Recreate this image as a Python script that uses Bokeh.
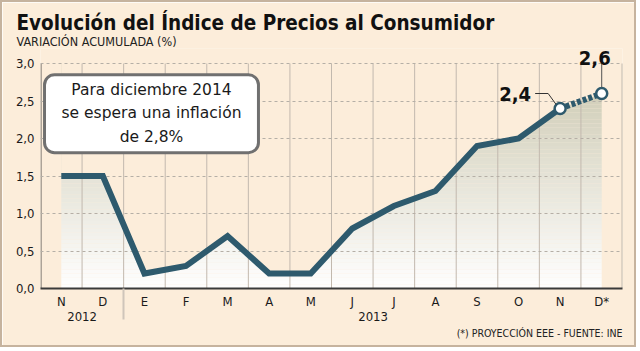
import numpy as np
from bokeh.plotting import figure
from bokeh.models import (Range1d, FixedTicker, LinearAxis, CustomJSTickFormatter, Label, Title)
from bokeh.embed import file_html
from bokeh.resources import INLINE

# ---- data ----
months = ["N", "D", "E", "F", "M", "A", "M", "J", "J", "A", "S", "O", "N", "D*"]
values = [1.5, 1.5, 0.2, 0.3, 0.7, 0.2, 0.2, 0.8, 1.1, 1.3, 1.9, 2.0, 2.4, 2.6]
years = ["2012", "2013"]
year_centers = [0.5, 7.5]
year_break = [1.5]
y_ticks = [0.0, 0.5, 1.0, 1.5, 2.0, 2.5, 3.0]
n_actual = 13  # the last value is a projection

title = "Evolución del Índice de Precios al Consumidor"
subtitle = "VARIACIÓN ACUMULADA (%)"
note = "Para diciembre 2014\nse espera una inflación\nde 2,8%"
source_txt = "(*) PROYECCIÓN EEE - FUENTE: INE"

# ---- styles ----
BG = "#FCEDDA"
LINE = "#2E5A6D"
GRID = "#C2B9AE"
COND = "DejaVu Sans Condensed"
Y_TOP = 3.0
Y_VIEW = 3.2

x = list(range(len(months)))

p = figure(width=636, height=347, x_range=Range1d(-0.5, len(months) - 0.5),
           y_range=Range1d(0, Y_VIEW), output_backend="svg", toolbar_location=None,
           min_border_left=38, min_border_right=16, min_border_top=46,
           min_border_bottom=61, background_fill_color=BG, border_fill_color=BG,
           outline_line_color=None)
p.styles = {"border": "2px solid #C6B39E"}

# ---- titles ----
p.title.text = title
p.title.align = "left"
p.title.offset = -24
p.title.text_font = COND
p.title.text_font_style = "bold"
p.title.text_font_size = "20.5px"
p.title.text_color = "#111111"
p.title.standoff = -4
p.title.padding = dict(left=0, right=0, top=3, bottom=0)
p.add_layout(Title(text=subtitle, align="left", offset=-24, text_font=COND,
                   text_font_style="normal", text_font_size="12.5px",
                   text_color="#222222", standoff=-1), "above")

# ---- gradient area under the curve ----
edges = np.linspace(0, Y_TOP, 61)
top_rgb = np.array([210, 207, 186])
cols = []
for lo, hi in zip(edges[:-1], edges[1:]):
    t = min((lo + hi) / 2 / 2.6, 1.0)
    c = (255 + (top_rgb - 255) * t).astype(int)
    cols.append("#%02x%02x%02x" % tuple(c))
p.quad(left=x[0], right=x[-1], bottom=edges[:-1], top=edges[1:], fill_color=cols,
       line_color=None, level="image")
p.patch(x + [x[-1], x[0]], values + [Y_VIEW, Y_VIEW], fill_color=BG, line_color=None,
        level="image")

# ---- grids ----
p.xgrid.visible = False
grid_x = [i + 0.5 for i in x]
p.segment(x0=grid_x, y0=0, x1=grid_x, y1=Y_TOP, line_color=GRID,
          line_width=[1] * (len(grid_x) - 1) + [2], level="underlay")
p.segment(x0=[-0.5], y0=0, x1=[-0.5], y1=Y_TOP, line_color="#ADA398", line_width=3,
          level="underlay")
p.ygrid.ticker = FixedTicker(ticks=y_ticks)
p.ygrid.grid_line_color = "#B5AFA6"
p.ygrid.grid_line_dash = "3 3"

# ---- axes ----
xa = p.xaxis[0]
xa.ticker = FixedTicker(ticks=x, minor_ticks=year_break)
xa.formatter = CustomJSTickFormatter(args=dict(labels=months),
                                     code="return labels[Math.round(tick)]")
xa.axis_line_color = "#3A3A3A"
xa.axis_line_width = 2
xa.major_tick_line_color = None
xa.major_tick_out = 0
xa.major_tick_in = 0
xa.minor_tick_out = 31
xa.minor_tick_in = 0
xa.minor_tick_line_color = "#CFC5BA"
xa.minor_tick_line_width = 2
xa.major_label_standoff = -26
xa.major_label_text_font = COND
xa.major_label_text_font_size = "13px"
xa.major_label_text_color = "#1a1a1a"

ya = LinearAxis(ticker=FixedTicker(ticks=year_centers),
                formatter=CustomJSTickFormatter(args=dict(labels=years, pos=year_centers),
                                                code="return labels[pos.indexOf(tick)]"))
ya.axis_line_color = None
ya.major_tick_line_color = None
ya.major_tick_out = 0
ya.major_tick_in = 0
ya.minor_tick_line_color = None
ya.major_label_standoff = 0
ya.major_label_text_font = COND
ya.major_label_text_font_size = "13px"
ya.major_label_text_color = "#1a1a1a"
p.add_layout(ya, "below")

p.add_layout(Title(text=source_txt, align="right", text_font=COND,
                   text_font_style="normal", text_font_size="10.5px",
                   text_color="#222222", standoff=2), "below")

yax = p.yaxis[0]
yax.ticker = FixedTicker(ticks=y_ticks)
yax.formatter = CustomJSTickFormatter(code="return tick.toFixed(1).replace('.', ',')")
yax.axis_line_color = None
yax.major_tick_line_color = None
yax.minor_tick_line_color = None
yax.major_tick_out = 0
yax.major_tick_in = 0
yax.major_label_standoff = 6
yax.major_label_text_font = COND
yax.major_label_text_font_size = "13px"
yax.major_label_text_color = "#1a1a1a"

# ---- line ----
p.line(x[:n_actual], values[:n_actual], line_color=LINE, line_width=6, line_join="miter")
p.line(x[n_actual - 1:], values[n_actual - 1:], line_color=LINE, line_width=6,
       line_dash="4 2")
p.scatter(x[n_actual - 1:], values[n_actual - 1:], size=11, fill_color="white",
          line_color=LINE, line_width=2.5)

# leader lines (pixel offsets converted to data units)
px_x = 582 / len(months)
px_y = 75.0
xi, vi = x[n_actual - 1], values[n_actual - 1]
p.line([xi - 4 / px_x, xi - 12 / px_x, xi - 25 / px_x],
       [vi + 4 / px_y, vi + 15 / px_y, vi + 15 / px_y], line_color="#333333", line_width=1)
xj, vj = x[-1], values[-1]
p.line([xj, xj], [vj + 6 / px_y, Y_TOP], line_color="#555555", line_width=1)

lab_fmt = lambda v: ("%.1f" % v).replace(".", ",")
p.add_layout(Label(x=xi, y=vi, x_offset=-29, y_offset=15, text=lab_fmt(vi),
                   text_align="right", text_baseline="middle", text_font=COND,
                   text_font_style="bold", text_font_size="20px", text_color="#111111"))
p.add_layout(Label(x=xj, y=vj, x_offset=-7, y_offset=36, text=lab_fmt(vj),
                   text_align="center", text_baseline="middle", text_font=COND,
                   text_font_style="bold", text_font_size="20px", text_color="#111111"))

# ---- note box ----
p.add_layout(Label(x=2.17, y=2.33, text=note, text_align="center",
                   text_baseline="middle", text_font="DejaVu Sans",
                   text_font_size="15.5px", text_color="#1a1a1a", text_line_height=1.3,
                   background_fill_color="white", border_line_color="#707070",
                   border_line_width=3, border_radius=10,
                   padding=dict(left=17, right=17, top=6, bottom=7)))

open("out.html", "w").write(file_html(p, INLINE))
